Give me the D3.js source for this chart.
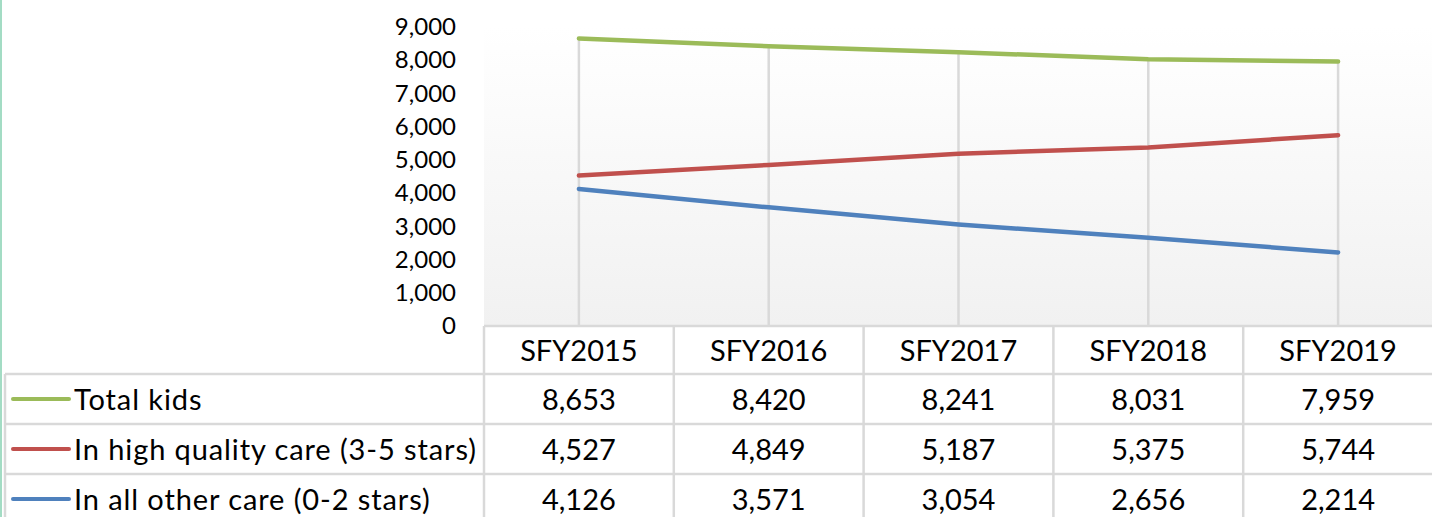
<!DOCTYPE html>
<html>
<head>
<meta charset="utf-8">
<script src="https://cdn.jsdelivr.net/npm/d3@7"></script>
<style>
  html, body { margin: 0; padding: 0; background: #ffffff; }
  svg { display: block; }
  text { font-family: Lato, "Open Sans", sans-serif; fill: #000; }
</style>
</head>
<body>
<svg id="chart" width="1432" height="517"></svg>
<script>
const categories = ["SFY2015", "SFY2016", "SFY2017", "SFY2018", "SFY2019"];
const seriesNames = ["Total kids", "In high quality care (3-5 stars)", "In all other care (0-2 stars)"];
const totalKids = [8653, 8420, 8241, 8031, 7959];
const highQuality = [4527, 4849, 5187, 5375, 5744];
const otherCare = [4126, 3571, 3054, 2656, 2214];
const seriesColors = ["#9bbb59", "#c0504d", "#4f81bd"];
const yTicks = [0, 1000, 2000, 3000, 4000, 5000, 6000, 7000, 8000, 9000];

const series = [totalKids, highQuality, otherCare].map((vals, i) => ({
  name: seriesNames[i], values: vals, color: seriesColors[i]
}));

const W = 1432, H = 517;
const plotLeft = 484, plotRight = 1433, plotTop = 27, plotBottom = 326;
const tableLeft = 5;
const headerBottom = 374, rowH = 50;
const gridColor = "#d9d9d9";
const tableFont = 29;

const svg = d3.select("#chart");

// left accent border
svg.append("rect").attr("x", 0).attr("y", 0).attr("width", 2).attr("height", H).attr("fill", "#a3dcc4");

const x = d3.scaleBand().domain(categories).range([plotLeft, plotRight]).padding(0);
const y = d3.scaleLinear().domain([0, 9000]).range([plotBottom, plotTop]);

// plot area gradient
const defs = svg.append("defs");
const grad = defs.append("linearGradient").attr("id", "bg").attr("x1", 0).attr("y1", 0).attr("x2", 0).attr("y2", 1);
grad.append("stop").attr("offset", "0%").attr("stop-color", "#ffffff");
grad.append("stop").attr("offset", "100%").attr("stop-color", "#f1f1f1");
svg.append("rect").attr("x", plotLeft).attr("y", plotTop)
  .attr("width", plotRight - plotLeft).attr("height", plotBottom - plotTop)
  .attr("fill", "url(#bg)");

// drop lines
svg.append("g").selectAll("line").data(categories).join("line")
  .attr("x1", d => x(d) + x.bandwidth() / 2)
  .attr("x2", d => x(d) + x.bandwidth() / 2)
  .attr("y1", (d, i) => y(d3.max(series, s => s.values[i])))
  .attr("y2", plotBottom)
  .attr("stroke", gridColor).attr("stroke-width", 2.5);

// y axis
const yAxis = d3.axisLeft(y).tickValues(yTicks).tickFormat(d3.format(",")).tickSize(0).tickPadding(28);
const ya = svg.append("g").attr("transform", `translate(${plotLeft},0)`).call(yAxis);
ya.select(".domain").remove();
ya.selectAll("text").attr("font-size", 24).attr("font-family", "Lato, 'Open Sans', sans-serif").attr("fill", "#000");

// lines
const line = d3.line().x((d, i) => x(categories[i]) + x.bandwidth() / 2).y(d => y(d));
svg.append("g").selectAll("path").data(series).join("path")
  .attr("d", s => line(s.values))
  .attr("fill", "none")
  .attr("stroke", s => s.color)
  .attr("stroke-width", 4.5)
  .attr("stroke-linecap", "round")
  .attr("stroke-linejoin", "round");

// data table
const tbl = svg.append("g");
const gl = (x1, y1, x2, y2) => tbl.append("line").attr("x1", x1).attr("y1", y1).attr("x2", x2).attr("y2", y2)
  .attr("stroke", gridColor).attr("stroke-width", 2.5);

gl(plotLeft, plotBottom, plotRight, plotBottom);
for (let r = 0; r <= series.length; r++) {
  const yy = headerBottom + r * rowH;
  gl(tableLeft, yy, plotRight, yy);
}
gl(tableLeft, headerBottom, tableLeft, headerBottom + series.length * rowH);
categories.forEach(c => gl(x(c), plotBottom, x(c), headerBottom + series.length * rowH));

// header labels
tbl.selectAll("text.hdr").data(categories).join("text").attr("class", "hdr")
  .attr("x", d => x(d) + x.bandwidth() / 2)
  .attr("y", (plotBottom + headerBottom) / 2 - 1)
  .attr("text-anchor", "middle").attr("dominant-baseline", "central")
  .attr("font-size", tableFont).text(d => d);

// rows
const fmt = d3.format(",");
series.forEach((s, r) => {
  const cy = headerBottom + r * rowH + rowH / 2;
  tbl.append("line").attr("x1", 13).attr("x2", 69).attr("y1", cy).attr("y2", cy)
    .attr("stroke", s.color).attr("stroke-width", 4).attr("stroke-linecap", "round");
  tbl.append("text").attr("x", 74).attr("y", cy - 1).attr("dominant-baseline", "central")
    .attr("font-size", tableFont).attr("letter-spacing", 0.9).text(s.name);
  tbl.selectAll(null).data(s.values).join("text")
    .attr("x", (d, i) => x(categories[i]) + x.bandwidth() / 2)
    .attr("y", cy - 1)
    .attr("text-anchor", "middle").attr("dominant-baseline", "central")
    .attr("font-size", tableFont).text(d => fmt(d));
});
</script>
</body>
</html>
